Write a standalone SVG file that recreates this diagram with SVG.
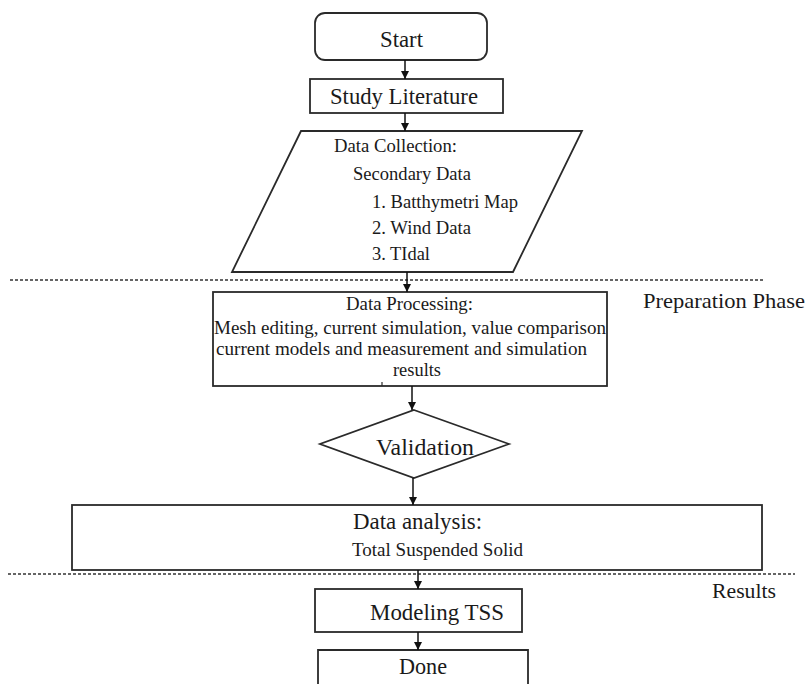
<svg xmlns="http://www.w3.org/2000/svg" width="808" height="684" viewBox="0 0 808 684">
<defs>
<marker id="ah" viewBox="0 0 10 10" refX="10" refY="5" markerWidth="8" markerHeight="9" markerUnits="userSpaceOnUse" orient="auto">
<path d="M0,0 L10,5 L0,10 Z" fill="#111"/>
</marker>
<style>
.box{fill:#fff;stroke:#2a2a2a;stroke-width:1.8}
.t{font-family:"Liberation Serif","Times New Roman",serif;fill:#1a1a1a}
.big{font-size:23px}
.sm{font-size:19px}
.dash{stroke:#333;stroke-width:1.5;stroke-dasharray:3 2;fill:none}
.conn line{stroke:#111;stroke-width:1.5}
</style>
</defs>
<rect width="808" height="684" fill="#fff"/>
<g id="phase-lines">
<line class="dash" x1="10" y1="280" x2="763" y2="280"/>
<line class="dash" x1="8" y1="574" x2="795" y2="574"/>
</g>
<g id="start">
<rect class="box" x="315" y="13" width="172" height="47" rx="10"/>
<text class="t" font-size="24" x="380" y="47" textLength="43" lengthAdjust="spacingAndGlyphs">Start</text>
</g>
<g id="study">
<rect class="box" x="310" y="79" width="193" height="34"/>
<text class="t big" x="330" y="104" textLength="148" lengthAdjust="spacingAndGlyphs">Study Literature</text>
</g>
<g id="collection">
<polygon class="box" points="301,131 582,131 513,272 232,272"/>
<text class="t sm" x="334" y="152" textLength="123" lengthAdjust="spacingAndGlyphs">Data Collection:</text>
<text class="t sm" x="353" y="180" textLength="118" lengthAdjust="spacingAndGlyphs">Secondary Data</text>
<text class="t sm" x="372" y="208" textLength="146" lengthAdjust="spacingAndGlyphs">1. Batthymetri Map</text>
<text class="t sm" x="372" y="234" textLength="99" lengthAdjust="spacingAndGlyphs">2. Wind Data</text>
<text class="t sm" x="372" y="260" textLength="58" lengthAdjust="spacingAndGlyphs">3. TIdal</text>
</g>
<g id="processing">
<rect class="box" x="213" y="292" width="394" height="94"/>
<line x1="382" y1="386" x2="382" y2="382" stroke="#2a2a2a" stroke-width="1.2"/>
<text class="t sm" x="346" y="310" textLength="127" lengthAdjust="spacingAndGlyphs">Data Processing:</text>
<text class="t sm" x="214" y="334" textLength="392" lengthAdjust="spacingAndGlyphs">Mesh editing, current simulation, value comparison</text>
<text class="t sm" x="216" y="355" textLength="371" lengthAdjust="spacingAndGlyphs">current models and measurement and simulation</text>
<text class="t sm" x="393" y="376" textLength="48" lengthAdjust="spacingAndGlyphs">results</text>
</g>
<g id="prep-label">
<text class="t" font-size="22" x="643" y="308" textLength="162" lengthAdjust="spacingAndGlyphs">Preparation Phase</text>
</g>
<g id="validation">
<polygon class="box" points="414,410 509,444 414,478 320,444"/>
<text class="t" font-size="24" x="376" y="455" textLength="98" lengthAdjust="spacingAndGlyphs">Validation</text>
</g>
<g id="analysis">
<rect class="box" x="72" y="505" width="690" height="65"/>
<text class="t" font-size="24" x="353" y="529" textLength="129" lengthAdjust="spacingAndGlyphs">Data analysis:</text>
<text class="t" font-size="18" x="352" y="556" textLength="171" lengthAdjust="spacingAndGlyphs">Total Suspended Solid</text>
</g>
<g id="results-label">
<text class="t" font-size="22" x="712" y="598" textLength="64" lengthAdjust="spacingAndGlyphs">Results</text>
</g>
<g id="modeling">
<rect class="box" x="315" y="589" width="207" height="43"/>
<text class="t" font-size="24" x="370" y="620" textLength="134" lengthAdjust="spacingAndGlyphs">Modeling TSS</text>
</g>
<g id="done">
<path class="box" d="M318,684 L318,650 L528,650 L528,684"/>
<text class="t" font-size="24" x="399" y="674" textLength="48" lengthAdjust="spacingAndGlyphs">Done</text>
</g>
<g id="connectors" class="conn">
<line x1="405" y1="60" x2="405" y2="79" marker-end="url(#ah)"/>
<line x1="405" y1="113" x2="405" y2="131" marker-end="url(#ah)"/>
<line x1="407" y1="272" x2="407" y2="292" marker-end="url(#ah)"/>
<line x1="412" y1="386" x2="412" y2="410" marker-end="url(#ah)"/>
<line x1="413" y1="478" x2="413" y2="505" marker-end="url(#ah)"/>
<line x1="418" y1="570" x2="418" y2="589" marker-end="url(#ah)"/>
<line x1="418" y1="632" x2="418" y2="650" marker-end="url(#ah)"/>
</g>
</svg>
